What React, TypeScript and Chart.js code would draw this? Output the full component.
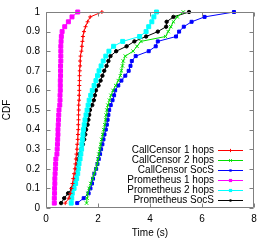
import React, { useEffect, useRef } from "react";
import { Chart, registerables } from "chart.js";

Chart.register(...registerables);

// CDF levels (40 samples per series)
const cdfLevels = [
  0.025, 0.05, 0.075, 0.1, 0.125, 0.15, 0.175, 0.2, 0.225, 0.25,
  0.275, 0.3, 0.325, 0.35, 0.375, 0.4, 0.425, 0.45, 0.475, 0.5,
  0.525, 0.55, 0.575, 0.6, 0.625, 0.65, 0.675, 0.7, 0.725, 0.75,
  0.775, 0.8, 0.825, 0.85, 0.875, 0.9, 0.925, 0.95, 0.975, 1.0,
];

// Time (s) at each CDF level
const callCensor1Hops = [
  0.74, 0.88, 0.94, 0.98, 1.02, 1.05, 1.08, 1.11, 1.13, 1.15,
  1.17, 1.19, 1.2, 1.22, 1.23, 1.24, 1.24, 1.25, 1.25, 1.26,
  1.26, 1.27, 1.27, 1.28, 1.28, 1.29, 1.29, 1.3, 1.31, 1.31,
  1.33, 1.36, 1.38, 1.4, 1.42, 1.46, 1.52, 1.6, 1.7, 2.15,
];
const callCensor2Hops = [
  1.56, 1.58, 1.6, 1.66, 1.72, 1.79, 1.85, 1.92, 1.97, 2.0,
  2.03, 2.07, 2.1, 2.14, 2.18, 2.22, 2.26, 2.29, 2.31, 2.34,
  2.38, 2.44, 2.5, 2.58, 2.68, 2.78, 2.86, 2.9, 2.94, 2.97,
  3.05, 3.35, 3.5, 3.65, 4.6, 4.7, 4.8, 4.9, 5.05, 5.28,
];
const callCensorSocS = [
  1.2, 1.45, 1.64, 1.71, 1.77, 1.81, 1.86, 1.93, 1.98, 2.03,
  2.08, 2.12, 2.17, 2.21, 2.25, 2.3, 2.34, 2.37, 2.4, 2.43,
  2.49, 2.56, 2.62, 2.66, 2.78, 2.9, 3.05, 3.18, 3.25, 3.3,
  3.45, 3.95, 4.22, 4.3, 5.0, 5.12, 5.3, 5.6, 6.1, 7.23,
];
const prometheus1Hops = [
  0.32, 0.32, 0.33, 0.33, 0.34, 0.34, 0.35, 0.36, 0.37, 0.38,
  0.42, 0.43, 0.44, 0.45, 0.46, 0.46, 0.47, 0.48, 0.49, 0.5,
  0.53, 0.54, 0.54, 0.55, 0.55, 0.55, 0.56, 0.56, 0.56, 0.57,
  0.57, 0.57, 0.57, 0.58, 0.59, 0.62, 0.72, 0.86, 1.0, 1.22,
];
const prometheus2Hops = [
  0.97, 0.99, 1.01, 1.08, 1.14, 1.18, 1.22, 1.24, 1.27, 1.31,
  1.34, 1.37, 1.38, 1.4, 1.42, 1.44, 1.47, 1.5, 1.54, 1.58,
  1.62, 1.66, 1.72, 1.78, 1.85, 1.92, 1.98, 2.04, 2.12, 2.2,
  2.3, 2.42, 2.6, 2.95, 3.6, 3.85, 3.95, 4.07, 4.15, 4.25,
];
const prometheusSocS = [
  0.58, 0.7, 0.85, 1.0, 1.08, 1.14, 1.18, 1.2, 1.21, 1.23,
  1.27, 1.35, 1.42, 1.47, 1.51, 1.54, 1.6, 1.63, 1.66, 1.69,
  1.78, 1.84, 1.88, 1.92, 2.02, 2.1, 2.17, 2.24, 2.33, 2.4,
  2.48, 2.7, 3.1, 3.4, 3.85, 4.3, 4.62, 4.64, 4.9, 5.5,
];

const seriesNames = [
  "CallCensor 1 hops",
  "CallCensor 2 hops",
  "CallCensor SocS",
  "Prometheus 1 hops",
  "Prometheus 2 hops",
  "Prometheus SocS",
];
const seriesTimes = [
  callCensor1Hops,
  callCensor2Hops,
  callCensorSocS,
  prometheus1Hops,
  prometheus2Hops,
  prometheusSocS,
];
const seriesColors = ["#ff0000", "#00e000", "#0000ff", "#ff00ff", "#00ffff", "#000000"];
const seriesMarkers = ["cross", "crossRot", "rect", "rect", "rect", "circle"];
const seriesRadius = [2, 2.4, 2.1, 2.8, 2.8, 1.7];

const xTickValues = [0, 2, 4, 6, 8];
const yTickValues = [0, 0.1, 0.2, 0.3, 0.4, 0.5, 0.6, 0.7, 0.8, 0.9, 1];

const FRAME = "#808080";
const FONT = "'Liberation Sans', Arial, sans-serif";

function drawMarker(ctx: CanvasRenderingContext2D, style: string, x: number, y: number, r: number, color: string) {
  ctx.save();
  ctx.strokeStyle = color;
  ctx.fillStyle = color;
  ctx.lineWidth = 1;
  ctx.beginPath();
  if (style === "rect") {
    const s = r * Math.SQRT1_2;
    ctx.rect(x - s, y - s, 2 * s, 2 * s);
    ctx.fill();
  } else if (style === "circle") {
    ctx.arc(x, y, r, 0, Math.PI * 2);
    ctx.fill();
  } else if (style === "cross") {
    ctx.moveTo(x - r, y);
    ctx.lineTo(x + r, y);
    ctx.moveTo(x, y - r);
    ctx.lineTo(x, y + r);
    ctx.stroke();
  } else {
    const s = r * Math.SQRT1_2;
    ctx.moveTo(x - s, y - s);
    ctx.lineTo(x + s, y + s);
    ctx.moveTo(x + s, y - s);
    ctx.lineTo(x - s, y + s);
    ctx.stroke();
  }
  ctx.restore();
}

const framePlugin = {
  id: "gnuframe",
  afterDatasetsDraw(chart: any) {
    const { ctx, chartArea } = chart;
    const xs = chart.scales.x;
    const ys = chart.scales.y;
    const L = Math.round(chartArea.left) + 0.5;
    const R = Math.round(chartArea.right) - 0.5;
    const T = Math.round(chartArea.top) + 0.5;
    const B = Math.round(chartArea.bottom) - 0.5;
    ctx.save();
    ctx.strokeStyle = FRAME;
    ctx.lineWidth = 1;
    ctx.beginPath();
    ctx.rect(L, T, R - L, B - T);
    const tl = 4;
    xTickValues.forEach((v) => {
      const px = Math.round(xs.getPixelForValue(v)) + 0.5;
      ctx.moveTo(px, B);
      ctx.lineTo(px, B - tl);
      ctx.moveTo(px, T);
      ctx.lineTo(px, T + tl);
    });
    yTickValues.forEach((v) => {
      const py = Math.round(ys.getPixelForValue(v)) + 0.5;
      ctx.moveTo(L, py);
      ctx.lineTo(L + tl, py);
      ctx.moveTo(R, py);
      ctx.lineTo(R - tl, py);
    });
    ctx.stroke();

    // legend (inside plot, bottom right)
    ctx.font = `10px ${FONT}`;
    ctx.textAlign = "right";
    ctx.textBaseline = "middle";
    ctx.fillStyle = "#000";
    const textRight = 214;
    const lineStart = 218;
    const lineEnd = 243;
    const top = 150;
    seriesNames.forEach((name, i) => {
      const y = top + i * 10;
      ctx.fillText(name, textRight, y);
      ctx.beginPath();
      ctx.strokeStyle = seriesColors[i];
      ctx.moveTo(lineStart, y + 0.5);
      ctx.lineTo(lineEnd, y + 0.5);
      ctx.stroke();
      drawMarker(ctx, seriesMarkers[i], (lineStart + lineEnd) / 2, y + 0.5, seriesRadius[i] * 0.8, seriesColors[i]);
    });
    ctx.restore();
  },
};

export default function App() {
  const canvasRef = useRef<HTMLCanvasElement>(null);

  useEffect(() => {
    if (!canvasRef.current) return;
    const datasets = seriesNames.map((name, i) => ({
      label: name,
      data: seriesTimes[i].map((t, k) => ({ x: t, y: cdfLevels[k] })),
      showLine: true,
      borderColor: seriesColors[i],
      backgroundColor: seriesColors[i],
      borderWidth: 1,
      pointStyle: seriesMarkers[i] as any,
      pointRadius: seriesRadius[i],
      pointBorderWidth: 1,
      pointBorderColor: seriesColors[i],
      pointBackgroundColor: seriesColors[i],
      tension: 0,
      clip: false as any,
    }));

    const chart = new Chart(canvasRef.current, {
      type: "scatter",
      data: { datasets },
      options: {
        animation: false,
        responsive: true,
        maintainAspectRatio: false,
        layout: { padding: { top: 12, right: 16, left: 0, bottom: 0 } },
        plugins: {
          legend: { display: false },
          tooltip: { enabled: false },
        },
        scales: {
          x: {
            type: "linear",
            min: 0,
            max: 8,
            afterFit: (s: any) => {
              s.height = 32;
            },
            afterBuildTicks: (s: any) => {
              s.ticks = xTickValues.map((v) => ({ value: v }));
            },
            grid: { display: false, drawTicks: false },
            border: { display: false },
            ticks: {
              color: "#000",
              padding: 5,
              font: { family: FONT, size: 10 },
              maxRotation: 0,
            },
            title: {
              display: true,
              text: "Time (s)",
              color: "#000",
              font: { family: FONT, size: 10 },
              padding: 1,
            },
          },
          y: {
            type: "linear",
            min: 0,
            max: 1,
            afterFit: (s: any) => {
              s.width = 46;
            },
            afterBuildTicks: (s: any) => {
              s.ticks = yTickValues.map((v) => ({ value: v }));
            },
            grid: { display: false, drawTicks: false },
            border: { display: false },
            ticks: {
              color: "#000",
              padding: 6,
              font: { family: FONT, size: 10 },
              callback: (v: any) => String(Math.round(Number(v) * 10) / 10),
            },
            title: {
              display: true,
              text: "CDF",
              color: "#000",
              font: { family: FONT, size: 10 },
              padding: 1,
            },
          },
        },
      },
      plugins: [framePlugin],
    });
    return () => chart.destroy();
  }, []);

  return (
    <div
      style={{
        position: "fixed",
        left: 0,
        top: 0,
        width: 270,
        height: 240,
        background: "#ffffff",
      }}
    >
      <canvas ref={canvasRef} />
    </div>
  );
}
